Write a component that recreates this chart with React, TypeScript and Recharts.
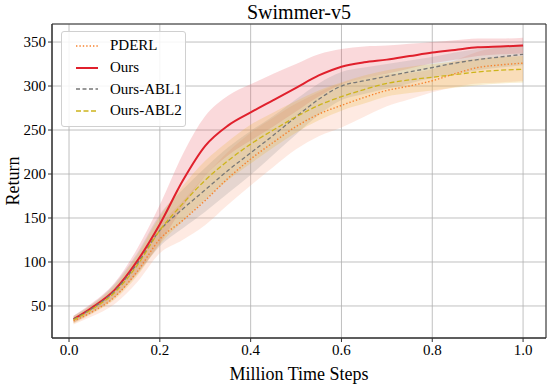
import React from 'react';
import { ComposedChart, Line, Area, XAxis, YAxis, CartesianGrid, ReferenceArea, Legend } from 'recharts';

const FONT = '"Liberation Serif", "Times New Roman", serif';

const steps = [0.01, 0.05, 0.1, 0.15, 0.2, 0.25, 0.3, 0.35, 0.4, 0.45, 0.5, 0.55, 0.6, 0.65, 0.7, 0.75, 0.8, 0.85, 0.9, 0.95, 1.0];

const pderlMean = [33, 43, 60, 89, 126, 147, 170, 195, 217, 236, 254, 268, 278, 287, 295, 300, 306, 314, 321, 324, 326];
const pderlStd = [4, 5, 8, 12, 16, 22, 28, 30, 30, 28, 26, 25, 25, 22, 18, 15, 13, 15, 18, 20, 20];

const oursMean = [35, 48, 68, 101, 143, 192, 232, 255, 270, 284, 298, 312, 322, 327, 330, 334, 338, 341, 344, 345, 346];
const oursStd = [4, 5, 8, 14, 22, 30, 34, 34, 32, 30, 27, 24, 20, 18, 16, 14, 12, 11, 10, 9, 9];

const abl1Mean = [35, 47, 67, 98, 136, 160, 182, 204, 224, 244, 265, 285, 300, 306, 311, 316, 321, 326, 330, 333, 336];
const abl1Std = [4, 5, 8, 12, 18, 22, 25, 26, 25, 22, 20, 18, 16, 15, 14, 13, 12, 12, 12, 12, 12];

const abl2Mean = [34, 46, 65, 96, 136, 166, 193, 215, 234, 250, 265, 278, 288, 296, 303, 307, 310, 313, 316, 318, 319];
const abl2Std = [4, 5, 8, 12, 16, 20, 22, 22, 22, 20, 18, 17, 16, 16, 15, 15, 15, 15, 15, 15, 15];

const xTicks = [0, 0.2, 0.4, 0.6, 0.8, 1.0];
const yTicks = [50, 100, 150, 200, 250, 300, 350];
const X_DOMAIN: [number, number] = [-0.0375, 1.0505];
const Y_DOMAIN: [number, number] = [13.6, 370.5];

const series = [
  { key: 'pderl', name: 'PDERL', color: '#f7822e', band: '#f9a07a', width: 1.4, dash: '1.4 2' },
  { key: 'ours', name: 'Ours', color: '#e0202c', band: '#e8505a', width: 2, dash: undefined },
  { key: 'abl1', name: 'Ours-ABL1', color: '#777777', band: '#8c8c8c', width: 1.3, dash: '4 2.5' },
  { key: 'abl2', name: 'Ours-ABL2', color: '#cdb41c', band: '#e6b22a', width: 1.3, dash: '5 2.5' },
];

const data = steps.map((x, i) => ({
  x,
  pderl: pderlMean[i],
  pderlBand: [pderlMean[i] - pderlStd[i], pderlMean[i] + pderlStd[i]],
  ours: oursMean[i],
  oursBand: [oursMean[i] - oursStd[i], oursMean[i] + oursStd[i]],
  abl1: abl1Mean[i],
  abl1Band: [abl1Mean[i] - abl1Std[i], abl1Mean[i] + abl1Std[i]],
  abl2: abl2Mean[i],
  abl2Band: [abl2Mean[i] - abl2Std[i], abl2Mean[i] + abl2Std[i]],
}));

const LegendBox = () => (
  <div
    style={{
      width: 125,
      boxSizing: 'border-box',
      background: 'rgba(255,255,255,0.85)',
      border: '1px solid #d0d0d0',
      borderRadius: 3,
      padding: '3px 0 4px 0',
      fontFamily: FONT,
      fontSize: 15,
      color: '#000',
      whiteSpace: 'nowrap',
      textAlign: 'left',
    }}
  >
    {series.map(s => (
      <div key={s.key} style={{ display: 'flex', alignItems: 'center', height: 21.7 }}>
        <svg width={36} height={10} style={{ marginLeft: 12, flexShrink: 0 }}>
          <line x1={2} x2={24} y1={5} y2={5} stroke={s.color} strokeWidth={s.width} strokeDasharray={s.dash} />
        </svg>
        <span>{s.name}</span>
      </div>
    ))}
  </div>
);

export default function App() {
  return (
    <div style={{ position: 'fixed', left: 0, top: 0, width: 550, height: 384, background: '#fff' }}>
      <div
        style={{
          position: 'absolute',
          left: 0,
          width: 598,
          top: 1,
          textAlign: 'center',
          fontFamily: FONT,
          fontSize: 20,
          color: '#000',
        }}
      >
        Swimmer-v5
      </div>
      <ComposedChart
        width={550}
        height={384}
        data={data}
        margin={{ top: 24, right: 4, left: 0, bottom: 0 }}
        style={{ fontFamily: FONT }}
      >
        <CartesianGrid stroke="#b0b0b0" strokeWidth={0.8} vertical horizontal />
        <XAxis
          dataKey="x"
          type="number"
          domain={X_DOMAIN}
          ticks={xTicks}
          allowDataOverflow
          tickFormatter={(v: number) => v.toFixed(1)}
          height={46}
          tickSize={4}
          tickMargin={2}
          stroke="#333"
          tick={{ fill: '#000', fontSize: 15, fontFamily: FONT }}
          label={{ value: 'Million Time Steps', position: 'insideBottom', offset: 4, fill: '#000', fontSize: 18, fontFamily: FONT }}
        />
        <YAxis
          type="number"
          domain={Y_DOMAIN}
          ticks={yTicks}
          allowDataOverflow
          width={52}
          tickSize={4}
          tickMargin={2}
          stroke="#333"
          tick={{ fill: '#000', fontSize: 15, fontFamily: FONT }}
          label={{ value: 'Return', angle: -90, position: 'insideLeft', offset: 13, fill: '#000', fontSize: 18, fontFamily: FONT, style: { textAnchor: 'middle' } }}
        />
        {series.map(s => (
          <Area
            key={s.key + 'Band'}
            dataKey={s.key + 'Band'}
            type="monotone"
            stroke="none"
            fill={s.band}
            fillOpacity={0.22}
            isAnimationActive={false}
            activeDot={false}
          />
        ))}
        {series.map(s => (
          <Line
            key={s.key}
            dataKey={s.key}
            type="monotone"
            stroke={s.color}
            strokeWidth={s.width}
            strokeDasharray={s.dash}
            dot={false}
            activeDot={false}
            isAnimationActive={false}
          />
        ))}
        <ReferenceArea
          x1={X_DOMAIN[0]}
          x2={X_DOMAIN[1]}
          y1={Y_DOMAIN[0]}
          y2={Y_DOMAIN[1]}
          fill="none"
          stroke="#333"
          strokeWidth={1}
          ifOverflow="visible"
        />
        <Legend
          layout="vertical"
          align="center"
          verticalAlign="middle"
          content={() => <LegendBox />}
          wrapperStyle={{ left: 61, top: 31, width: 125 }}
        />
      </ComposedChart>
    </div>
  );
}
